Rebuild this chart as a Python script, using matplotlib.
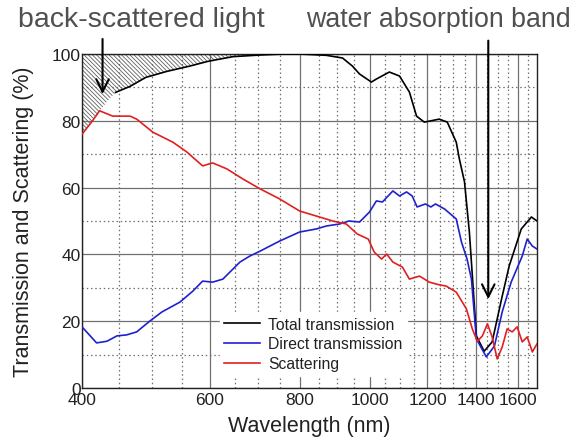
import numpy as np
import matplotlib
matplotlib.use("Agg")
import matplotlib.pyplot as plt
from matplotlib.ticker import FixedLocator, FixedFormatter, NullFormatter

plt.rcParams['font.family'] = ['Liberation Sans', 'DejaVu Sans']
plt.rcParams['hatch.linewidth'] = 0.6

# Total transmission (black)
total_wl = [445, 466, 490, 524, 564, 597, 646, 705, 760, 800, 870, 916, 945, 967, 1004,
            1020, 1063, 1098, 1133, 1159, 1188, 1246, 1278, 1315, 1328, 1350, 1371, 1380,
            1402, 1437, 1474, 1522, 1556, 1617, 1670, 1700]
total_val = [88.5, 90.3, 93, 94.8, 96.4, 97.8, 99.2, 99.7, 100, 100, 99.6, 98.8, 96.4, 94, 91.6,
             92.5, 94.6, 93.4, 88.6, 81.4, 79.6, 80.5, 79.6, 73.6, 68.6, 61.7, 46.7, 37.7,
             15.6, 11, 13.8, 27.5, 36.5, 47.6, 51.2, 50]

# Direct transmission (blue)
direct_wl = [400, 419, 433, 447, 461, 476, 496, 516, 546, 569, 587, 606, 626, 661, 682,
             705, 750, 799, 842, 870, 907, 935, 967, 998, 1020, 1040, 1075, 1098, 1123,
             1143, 1161, 1192, 1213, 1231, 1267, 1315, 1337, 1361, 1380, 1402, 1447, 1485,
             1522, 1566, 1622, 1648, 1675, 1700]
direct_val = [18.3, 13.5, 14, 15.6, 15.9, 16.8, 20, 22.8, 25.7, 29, 32, 31.7, 32.6, 37.7, 39.5,
              41, 44, 46.7, 47.6, 48.5, 49.1, 50, 49.7, 52.7, 56, 55.7, 59, 57.5, 58.7,
              57.5, 54.2, 55.1, 54.2, 55.1, 53.6, 50.6, 43.7, 38.6, 32.6, 14.7, 9.3, 12.6,
              22.8, 31.7, 39.5, 44.6, 42.5, 41.6]

# Scattering (red)
scatter_wl = [400, 412, 423, 441, 466, 476, 501, 534, 558, 587, 606, 634, 667, 705, 750,
              799, 851, 888, 927, 960, 994, 1013, 1037, 1054, 1075, 1108, 1133, 1170, 1207,
              1240, 1274, 1315, 1358, 1384, 1406, 1429, 1452, 1474, 1498, 1522, 1546, 1571,
              1596, 1622, 1648, 1675, 1700]
scatter_val = [76, 79.5, 83, 81.4, 81.4, 80.5, 76.6, 73.6, 70.7, 66.5, 67.4, 65.6, 62.6, 59.6, 56.6,
               53, 51.2, 50, 49.1, 46.1, 44.6, 40.7, 38.6, 40.1, 37.7, 36.2, 32.6, 33.5, 31.7,
               31.0, 30.5, 28.7, 23.7, 17.7, 14, 15.6, 19.2, 15.3, 8.7, 12.3, 17.7, 16.8,
               18.3, 13.8, 15.3, 10.8, 13.2]

# left edge of the hatched (back-scattered) area, before the black curve shows
edge_wl = [400, 412, 423, 434]
edge_val = [76, 79.5, 83, 86]

xticks = [400, 600, 800, 1000, 1200, 1400, 1600]
yticks = [0, 20, 40, 60, 80, 100]

fig = plt.figure(figsize=(5.76, 4.39), dpi=100, facecolor='white')
ax = fig.add_axes([82 / 576, 50 / 439, 455 / 576, 334 / 439])

ax.set_xscale('log')
ax.set_xlim(400, 1700)
ax.set_ylim(0, 100)

# hatched region between 100% and the total transmission
hw = np.array(edge_wl + [w for w in total_wl if w <= 800])
hv = np.array(edge_val + [v for w, v in zip(total_wl, total_val) if w <= 800])
ax.fill_between(hw, hv, 100, facecolor='none', edgecolor='#606060',
                hatch='\\' * 8, linewidth=0, zorder=1)

ax.plot(total_wl, total_val, color='black', lw=1.2, label='Total transmission', zorder=3)
ax.plot(direct_wl, direct_val, color='#2020d0', lw=1.2, label='Direct transmission', zorder=3)
ax.plot(scatter_wl, scatter_val, color='#e02020', lw=1.2, label='Scattering', zorder=3)

# grid
ax.xaxis.set_major_locator(FixedLocator(xticks))
ax.xaxis.set_major_formatter(FixedFormatter([str(t) for t in xticks]))
ax.xaxis.set_minor_locator(FixedLocator([w for w in range(450, 1700, 50) if w % 200 != 0]))
ax.xaxis.set_minor_formatter(NullFormatter())
ax.yaxis.set_major_locator(FixedLocator(yticks))
ax.yaxis.set_minor_locator(FixedLocator(list(range(10, 100, 20))))
ax.grid(True, which='major', color='#707070', lw=0.9, ls='-', zorder=0)
ax.grid(True, which='minor', color='#707070', lw=0.9, ls=(0, (1.2, 2.2)), zorder=0)
ax.set_axisbelow(True)

ax.tick_params(which='both', length=0, labelsize=12.5, colors='#222222')
ax.tick_params(axis='y', pad=1)
ax.tick_params(axis='x', pad=3)
for s in ax.spines.values():
    s.set_color('#222222')
    s.set_linewidth(1.0)

ax.set_xlabel('Wavelength (nm)', fontsize=15.5, color='#222222', labelpad=6)
ax.set_ylabel('Transmission and Scattering (%)', fontsize=15.5, color='#222222', labelpad=13)

leg = ax.legend(loc='lower left', bbox_to_anchor=(0.285, 0.013), fontsize=11.3,
                frameon=True, facecolor='white', edgecolor='white', framealpha=1,
                handlelength=2.3, handletextpad=0.5, labelspacing=0.3, borderpad=0.3)
leg.set_zorder(4)
for t in leg.get_texts():
    t.set_color('#222222')

# arrows from the annotations
arrow = dict(arrowstyle='->,head_length=0.9,head_width=0.45', color='black', lw=1.5,
             shrinkA=0, shrinkB=0)
ax.annotate('', xy=(427, 88), xytext=(427, 104.5), arrowprops=arrow,
            annotation_clip=False, zorder=5)
ax.annotate('', xy=(1456, 26.6), xytext=(1456, 104), arrowprops=arrow,
            annotation_clip=False, zorder=5)

fig.text(18 / 576, 1 - 20 / 439, 'back-scattered light', fontsize=20.5, color='#505050',
         va='center', ha='left')
fig.text(306 / 576, 1 - 20 / 439, 'water absorption band', fontsize=19.3, color='#505050',
         va='center', ha='left')

fig.savefig('out.png', dpi=100, facecolor='white')
